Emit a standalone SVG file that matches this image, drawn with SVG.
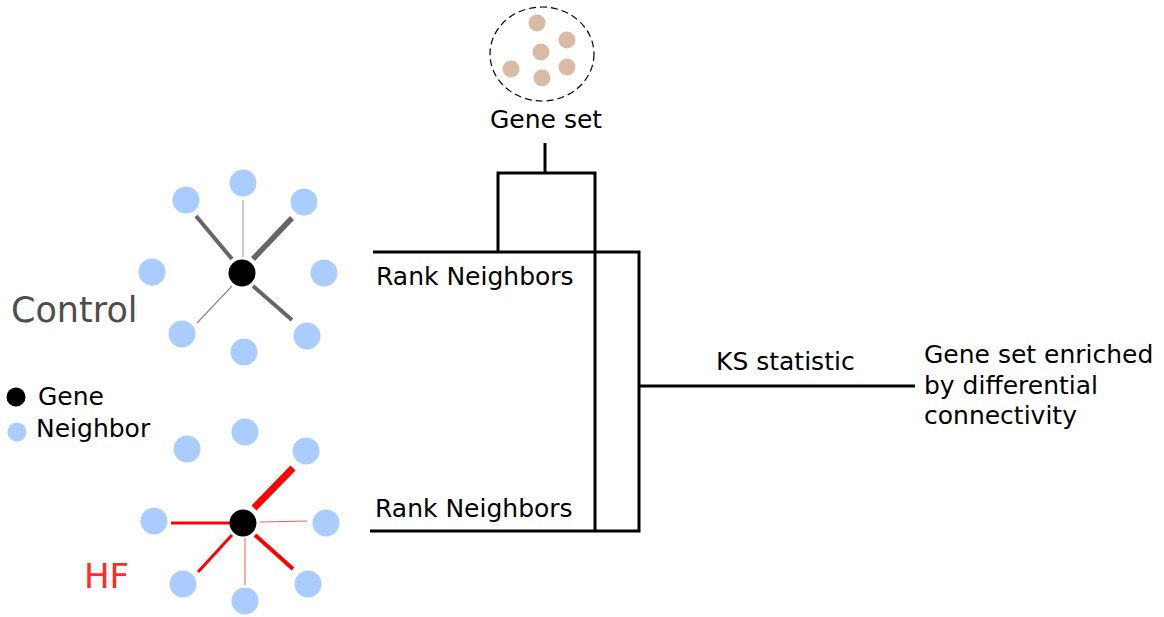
<svg xmlns="http://www.w3.org/2000/svg" width="1164" height="617" viewBox="0 0 1164 617">
<style>
text{font-family:"DejaVu Sans",sans-serif;font-size:25px;fill:#000}
.big{font-size:34px}
.nb{fill:#aaccff}
.gn{fill:#000}
.gs{fill:#d9bba5}
.conn{stroke:#000;stroke-width:3;fill:none}
.ce{stroke:#666;stroke-linecap:butt}
.he{stroke:#ff0000;stroke-linecap:butt}
</style>
<rect width="1164" height="617" fill="#fff"/>
<g id="geneset">
<ellipse cx="542" cy="54" rx="52" ry="47" fill="none" stroke="#000" stroke-width="1.2" stroke-dasharray="7,4"/>
<circle class="gs" cx="537" cy="23" r="8.5"/>
<circle class="gs" cx="567" cy="40" r="8.5"/>
<circle class="gs" cx="541" cy="52" r="8.5"/>
<circle class="gs" cx="511" cy="69" r="8.5"/>
<circle class="gs" cx="567" cy="67" r="8.5"/>
<circle class="gs" cx="542" cy="78" r="8.5"/>
<text x="490" y="128">Gene set</text>
</g>
<g id="control">
<line class="ce" x1="243" y1="257" x2="243" y2="200" style="stroke:#aaa" stroke-width="1.2"/>
<line class="ce" x1="196" y1="216" x2="232" y2="259" stroke-width="4"/>
<line class="ce" x1="292" y1="218" x2="253" y2="259" stroke-width="5.5"/>
<line class="ce" x1="197" y1="323" x2="232" y2="286" style="stroke:#888" stroke-width="1.2"/>
<line class="ce" x1="253" y1="286" x2="292" y2="320" stroke-width="4"/>
<circle class="nb" cx="243" cy="183" r="13.5"/>
<circle class="nb" cx="186" cy="200" r="13.5"/>
<circle class="nb" cx="304" cy="202" r="13.5"/>
<circle class="nb" cx="152" cy="272" r="13.5"/>
<circle class="nb" cx="324" cy="273" r="13.5"/>
<circle class="nb" cx="182" cy="334" r="13.5"/>
<circle class="nb" cx="244" cy="352" r="13.5"/>
<circle class="nb" cx="307" cy="336" r="13.5"/>
<circle class="gn" cx="242" cy="273" r="13.5"/>
<text class="big" x="11" y="322" style="fill:#4d4d4d;font-size:35px">Control</text>
</g>
<g id="hf">
<line class="he" x1="293" y1="468" x2="254" y2="508" stroke-width="7"/>
<line class="he" x1="171" y1="523" x2="230" y2="523" stroke-width="3"/>
<line class="he" x1="260" y1="522" x2="307" y2="521" stroke-width="1" style="stroke:#ff5555"/>
<line class="he" x1="198" y1="572" x2="232" y2="535" stroke-width="3"/>
<line class="he" x1="245" y1="538" x2="245" y2="585" stroke-width="1" style="stroke:#ff5555"/>
<line class="he" x1="255" y1="535" x2="293" y2="569" stroke-width="4"/>
<circle class="nb" cx="187" cy="449" r="13.5"/>
<circle class="nb" cx="245" cy="432" r="13.5"/>
<circle class="nb" cx="306" cy="451" r="13.5"/>
<circle class="nb" cx="154" cy="521" r="13.5"/>
<circle class="nb" cx="326" cy="523" r="13.5"/>
<circle class="nb" cx="183" cy="584" r="13.5"/>
<circle class="nb" cx="245" cy="601" r="13.5"/>
<circle class="nb" cx="308" cy="584" r="13.5"/>
<circle class="gn" cx="243" cy="523" r="13.5"/>
<text class="big" x="84" y="588" style="fill:#ff2a2a">HF</text>
</g>
<g id="legend">
<circle class="gn" cx="16" cy="397" r="9.5"/>
<text x="38" y="405">Gene</text>
<circle class="nb" cx="17" cy="432" r="9.5"/>
<text x="36" y="437">Neighbor</text>
</g>
<g id="connectors">
<path class="conn" d="M545 143V173M498 252V173H595V531"/>
<path class="conn" d="M373 252H639V531H370"/>
<path class="conn" d="M639 386H915"/>
</g>
<g id="labels">
<text x="376" y="285">Rank Neighbors</text>
<text x="375" y="517">Rank Neighbors</text>
<text x="716" y="370">KS statistic</text>
<text x="924" y="363">Gene set enriched</text>
<text x="924" y="394">by differential</text>
<text x="924" y="424">connectivity</text>
</g>
</svg>
